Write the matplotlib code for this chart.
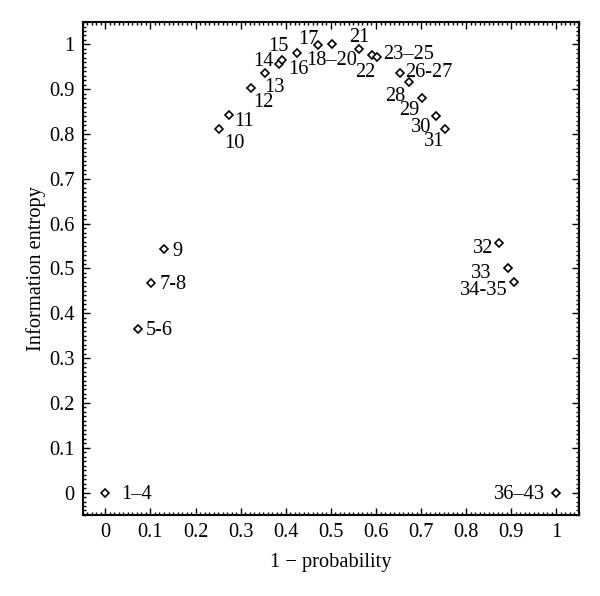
import numpy as np
import matplotlib.pyplot as plt
from matplotlib.ticker import MultipleLocator

# data (1 - probability, information entropy)
labels = ['1–4', '5-6', '7-8', '9', '10', '11', '12', '13', '14', '15',
          '16', '17', '18–20', '21', '22', '23–25', '26-27', '28', '29',
          '30', '31', '32', '33', '34-35', '36–43']
x_vals = [0.0, 0.073, 0.102, 0.129, 0.253, 0.273, 0.322, 0.353, 0.384, 0.392,
          0.424, 0.472, 0.503, 0.563, 0.592, 0.603, 0.654, 0.674, 0.703,
          0.734, 0.754, 0.873, 0.893, 0.905, 1.0]
y_vals = [0.0, 0.366, 0.468, 0.543, 0.812, 0.843, 0.902, 0.936, 0.956, 0.965,
          0.980, 0.998, 1.0, 0.989, 0.976, 0.971, 0.936, 0.916, 0.880,
          0.840, 0.812, 0.557, 0.501, 0.470, 0.0]

# label offsets in pixels (dx right, dy up)
offs = [(31, 0), (21, 0), (22, 0), (14, 0), (15, -13), (16, -5), (13, -12),
        (10, -12), (-15, 5), (-4, 16), (2, -14), (-10, 8), (-1, -14), (0, 14),
        (-7, -15), (31, 5), (28, 3), (-14, -12), (-13, -10), (-15, -9),
        (-11, -11), (-16, -4), (-27, -3), (-30, -7), (-37, 0)]

plt.rcParams['font.family'] = ['Liberation Serif', 'DejaVu Serif']
fs = 14.7

fig = plt.figure(figsize=(6.0, 5.96), dpi=100)
ax = fig.add_axes([0.138, 0.136, 0.827, 0.827])

ax.plot(x_vals, y_vals, 'D', ms=4, mfc='white', mec='black', mew=1.2,
        linestyle='none')

px2pt = 72.0 / 100.0
for lab, xv, yv, (dx, dy) in zip(labels, x_vals, y_vals, offs):
    ax.annotate(lab, (xv, yv), xytext=(dx * px2pt, (dy - 2) * px2pt),
                textcoords='offset points', ha='center', va='center',
                fontsize=fs)

ax.set_xlim(-0.05, 1.05)
ax.set_ylim(-0.05, 1.05)
ax.xaxis.set_minor_locator(MultipleLocator(0.01))
ax.yaxis.set_minor_locator(MultipleLocator(0.01))

def fmt(v):
    s = '%.1f' % v
    return s[:-2] if s.endswith('.0') else s

ticks = np.round(np.arange(0, 1.01, 0.1), 1)
ax.set_xticks(ticks)
ax.set_xticklabels([fmt(t) for t in ticks])
ax.set_yticks(ticks)
ax.set_yticklabels([fmt(t) for t in ticks])

ax.tick_params(which='both', direction='in', top=True, right=True,
               labelsize=fs, width=1.0)
ax.tick_params(which='major', length=5, pad=6)
ax.tick_params(which='minor', length=2.5)
for sp in ax.spines.values():
    sp.set_linewidth(1.5)

ax.set_xlabel('1 − probability', fontsize=fs, labelpad=8)
ax.set_ylabel('Information entropy', fontsize=fs, labelpad=2)

fig.savefig('out.png', dpi=100)
